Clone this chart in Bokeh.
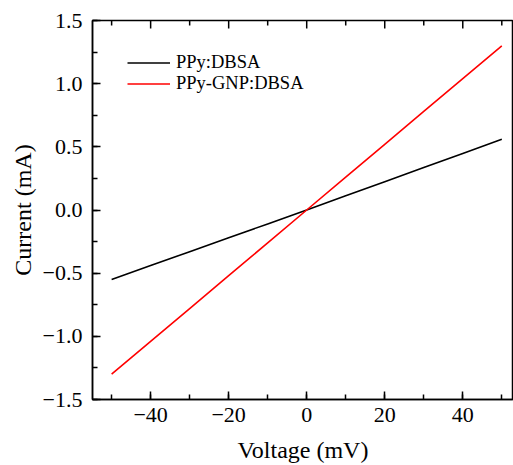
from bokeh.plotting import figure
from bokeh.models import Range1d, CustomJSTickFormatter, SingleIntervalTicker, Legend, LegendItem
from bokeh.embed import file_html
from bokeh.resources import INLINE

voltage = [-50, -40, -30, -20, -10, 0, 10, 20, 30, 40, 50]
current_ppy = [-0.55, -0.44, -0.33, -0.22, -0.11, 0.0, 0.112, 0.224, 0.336, 0.448, 0.56]
current_gnp = [-1.30, -1.04, -0.78, -0.52, -0.26, 0.0, 0.26, 0.52, 0.78, 1.04, 1.30]
labels = ["PPy:DBSA", "PPy-GNP:DBSA"]
x_ticks = [-40, -20, 0, 20, 40]
x_minor_ticks = [-50, -30, -10, 10, 30, 50]

FONT = "Liberation Serif"
Y_MIN, Y_MAX = -1.5, 1.5

p = figure(width=513, height=465, output_backend="svg", toolbar_location=None,
           x_range=Range1d(-54.9, 53.0), y_range=Range1d(Y_MIN, Y_MAX),
           min_border_left=92, min_border_top=20, min_border_right=0, min_border_bottom=10,
           x_axis_label="Voltage (mV)", y_axis_label="Current (mA)")
p.grid.visible = False
p.outline_line_color = "black"
p.outline_line_width = 1.5
p.background_fill_color = "white"
p.border_fill_color = "white"

xfmt = CustomJSTickFormatter(code="return tick.toFixed(0).replace('-', '\u2212');")
yfmt = CustomJSTickFormatter(code="return tick.toFixed(1).replace('-', '\u2212');")

p.xaxis.ticker = SingleIntervalTicker(interval=20, num_minor_ticks=2)
p.yaxis.ticker = SingleIntervalTicker(interval=0.5, num_minor_ticks=2)
p.xaxis.formatter = xfmt
p.yaxis.formatter = yfmt

for ax in (p.xaxis[0], p.yaxis[0]):
    ax.axis_line_width = 1.5
    ax.major_tick_line_width = 1.5
    ax.minor_tick_line_width = 1.5
    ax.major_tick_in = 8
    ax.major_tick_out = 0
    ax.minor_tick_in = 5
    ax.minor_tick_out = 0
    ax.major_label_text_font = FONT
    ax.major_label_text_font_size = "22px"
    ax.major_label_text_color = "black"
    ax.axis_label_text_font = FONT
    ax.axis_label_text_font_size = "24px"
    ax.axis_label_text_font_style = "normal"
    ax.axis_label_text_color = "black"

p.xaxis[0].major_label_standoff = 8
p.yaxis[0].major_label_standoff = 10
p.xaxis[0].axis_label_standoff = 12
p.yaxis[0].axis_label_standoff = 4

# inward ticks along the top edge of the frame
maj_len = 8 / 378 * (Y_MAX - Y_MIN)
min_len = 5 / 378 * (Y_MAX - Y_MIN)
p.segment(x0=x_ticks, y0=[Y_MAX] * len(x_ticks), x1=x_ticks,
          y1=[Y_MAX - maj_len] * len(x_ticks), line_color="black", line_width=1.5)
p.segment(x0=x_minor_ticks, y0=[Y_MAX] * len(x_minor_ticks), x1=x_minor_ticks,
          y1=[Y_MAX - min_len] * len(x_minor_ticks), line_color="black", line_width=1.5)

r1 = p.line(voltage, current_ppy, line_color="black", line_width=1.6)
r2 = p.line(voltage, current_gnp, line_color="red", line_width=1.6)

legend = Legend(items=[LegendItem(label=labels[0], renderers=[r1]),
                       LegendItem(label=labels[1], renderers=[r2])],
                location=(35, 305))
legend.border_line_color = None
legend.background_fill_alpha = 0
legend.padding = 0
legend.margin = 0
legend.spacing = 0
legend.glyph_width = 43
legend.glyph_height = 21
legend.label_height = 21
legend.label_standoff = 6
legend.label_text_font = FONT
legend.label_text_font_size = "18.5px"
legend.label_text_color = "black"
p.add_layout(legend)

open("out.html", "w").write(file_html(p, INLINE))
